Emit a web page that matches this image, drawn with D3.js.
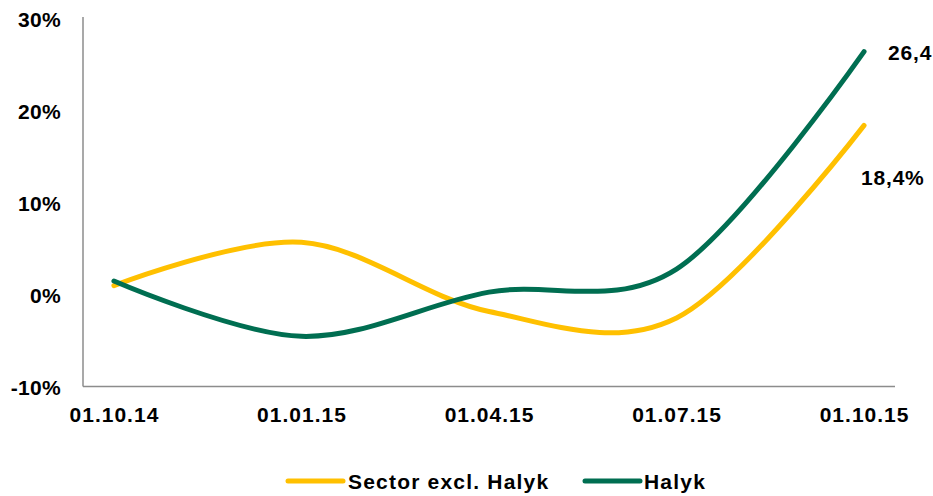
<!DOCTYPE html>
<html>
<head>
<meta charset="utf-8">
<script src="https://cdn.jsdelivr.net/npm/d3@7"></script>
<style>
  html, body { margin: 0; padding: 0; background: #fff; }
  text { font-family: "Liberation Sans", Arial, sans-serif; font-weight: bold; fill: #000; }
</style>
</head>
<body>
<div id="chart"></div>
<script>
// Data (quarterly, % growth)
var dates = ["01.10.14", "01.01.15", "01.04.15", "01.07.15", "01.10.15"];
var sector = [1.0, 5.7, -1.8, -2.5, 18.4];
var halyk = [1.5, -4.5, 0.3, 2.8, 26.4];
var yTicks = [-10, 0, 10, 20, 30];
var seriesNames = ["Sector excl. Halyk", "Halyk"];
var colors = ["#FFC000", "#006E51"];

var W = 933, H = 496;
var svg = d3.select("#chart").append("svg")
    .attr("width", W).attr("height", H);

// Scales
var x = d3.scalePoint()
    .domain(dates)
    .range([83, 895])
    .padding(0.165);

var y = d3.scaleLinear()
    .domain([-10, 30])
    .range([387, 18.5]);

// Y axis
var yAxis = svg.append("g")
    .attr("transform", "translate(83,0)")
    .call(d3.axisLeft(y).tickValues(yTicks).tickSize(0).tickPadding(22)
        .tickFormat(function(d) { return d + "%"; }));
yAxis.select(".domain").attr("stroke", "#8c8c8c").attr("stroke-width", 1.5)
    .attr("d", "M0,17V386.5");
yAxis.selectAll("text")
    .style("font-size", "21px")
    .style("letter-spacing", "0.3px")
    .attr("dy", "0.36em");

// X axis
var xAxis = svg.append("g")
    .attr("transform", "translate(0,386.5)")
    .call(d3.axisBottom(x).tickSize(0).tickPadding(21));
xAxis.select(".domain").attr("stroke", "#8c8c8c").attr("stroke-width", 1.5)
    .attr("d", "M83,0H895");
xAxis.selectAll("text")
    .style("font-size", "21px")
    .style("letter-spacing", "1px")
    .attr("dy", "0.71em");

// Lines
var line = d3.line()
    .x(function(d, i) { return x(dates[i]); })
    .y(function(d) { return y(d); })
    .curve(d3.curveCatmullRom.alpha(0));

[sector, halyk].forEach(function(s, i) {
    svg.append("path")
        .datum(s)
        .attr("fill", "none")
        .attr("stroke", colors[i])
        .attr("stroke-width", 5)
        .attr("stroke-linecap", "round")
        .attr("d", line);
});

// End labels
var last = dates[dates.length - 1];
svg.append("text")
    .attr("x", x(last) + 24).attr("y", y(halyk[4]) + 8)
    .style("font-size", "21px").style("letter-spacing", "0.8px")
    .text("26,4");
svg.append("text")
    .attr("x", x(last) - 3).attr("y", y(sector[4]) + 60)
    .style("font-size", "21px").style("letter-spacing", "0.8px")
    .text("18,4%");

// Legend
var legendX = [288, 585], textX = [348, 644];
seriesNames.forEach(function(name, i) {
    svg.append("line")
        .attr("x1", legendX[i]).attr("x2", legendX[i] + 55)
        .attr("y1", 481).attr("y2", 481)
        .attr("stroke", colors[i]).attr("stroke-width", 5)
        .attr("stroke-linecap", "round");
    svg.append("text")
        .attr("x", textX[i]).attr("y", 489)
        .style("font-size", "21px").style("letter-spacing", "1.2px")
        .text(name);
});
</script>
</body>
</html>
